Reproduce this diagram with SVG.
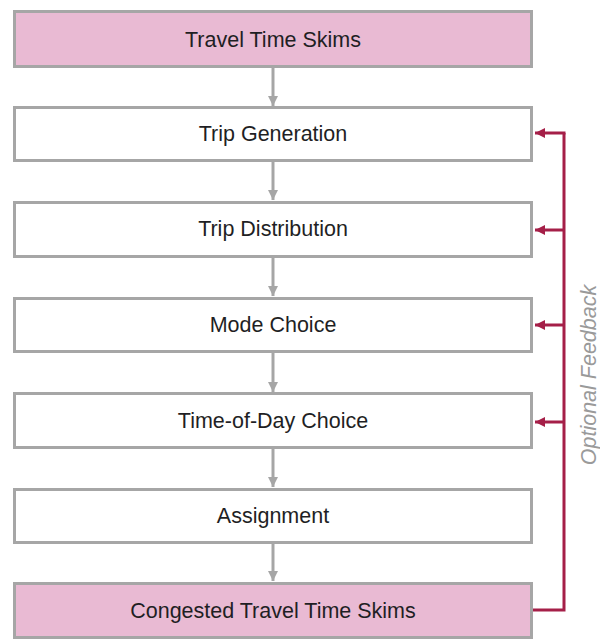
<svg xmlns="http://www.w3.org/2000/svg" width="600" height="639" viewBox="0 0 600 639">
<defs>
<style>
.box{fill:#fff;stroke:#a6a6a6;stroke-width:3}
.pink{fill:#e9bad3}
.lbl{font-family:"Liberation Sans",Arial,sans-serif;font-size:21.5px;fill:#1f1f24;text-anchor:middle}
.gline{stroke:#a6a6a6;stroke-width:3;fill:none}
.rline{stroke:#a51f48;stroke-width:3;fill:none}
.fb{font-family:"Liberation Sans",Arial,sans-serif;font-size:21.5px;font-style:italic;fill:#9a9a9a;text-anchor:middle}
</style>
<marker id="ga" viewBox="0 0 10 10" refX="10" refY="5" markerWidth="10" markerHeight="10" markerUnits="userSpaceOnUse" orient="auto"><path d="M0,0 L10,5 L0,10 Z" fill="#a6a6a6"/></marker>
<marker id="ra" viewBox="0 0 10 10" refX="10" refY="5" markerWidth="11" markerHeight="10" markerUnits="userSpaceOnUse" orient="auto"><path d="M0,0 L10,5 L0,10 Z" fill="#a51f48"/></marker>
</defs>
<g id="connectors">
<line class="gline" x1="273" y1="68" x2="273" y2="106" marker-end="url(#ga)"/>
<line class="gline" x1="273" y1="162" x2="273" y2="200" marker-end="url(#ga)"/>
<line class="gline" x1="273" y1="258" x2="273" y2="296" marker-end="url(#ga)"/>
<line class="gline" x1="273" y1="353" x2="273" y2="392" marker-end="url(#ga)"/>
<line class="gline" x1="273" y1="449" x2="273" y2="487" marker-end="url(#ga)"/>
<line class="gline" x1="273" y1="544" x2="273" y2="581" marker-end="url(#ga)"/>
<polyline class="rline" points="533,610 564,610 564,133"/>
<line class="rline" x1="565.5" y1="133" x2="535" y2="133" marker-end="url(#ra)"/>
<line class="rline" x1="564" y1="230" x2="535" y2="230" marker-end="url(#ra)"/>
<line class="rline" x1="564" y1="325" x2="535" y2="325" marker-end="url(#ra)"/>
<line class="rline" x1="564" y1="422" x2="535" y2="422" marker-end="url(#ra)"/>
</g>
<g id="n1"><rect class="box pink" x="14.5" y="11.5" width="517" height="55"/><text class="lbl" x="273" y="47">Travel Time Skims</text></g>
<g id="n2"><rect class="box" x="14.5" y="107.5" width="517" height="53"/><text class="lbl" x="273" y="141">Trip Generation</text></g>
<g id="n3"><rect class="box" x="14.5" y="202.5" width="517" height="54"/><text class="lbl" x="273" y="236">Trip Distribution</text></g>
<g id="n4"><rect class="box" x="14.5" y="298.5" width="517" height="53"/><text class="lbl" x="273" y="332">Mode Choice</text></g>
<g id="n5"><rect class="box" x="14.5" y="393.5" width="517" height="54"/><text class="lbl" x="273" y="428">Time-of-Day Choice</text></g>
<g id="n6"><rect class="box" x="14.5" y="489.5" width="517" height="53"/><text class="lbl" x="273" y="523">Assignment</text></g>
<g id="n7"><rect class="box pink" x="14.5" y="583.5" width="517" height="54"/><text class="lbl" x="273" y="618">Congested Travel Time Skims</text></g>
<g id="label"><text class="fb" transform="translate(596,375) rotate(-90)">Optional Feedback</text></g>
</svg>
